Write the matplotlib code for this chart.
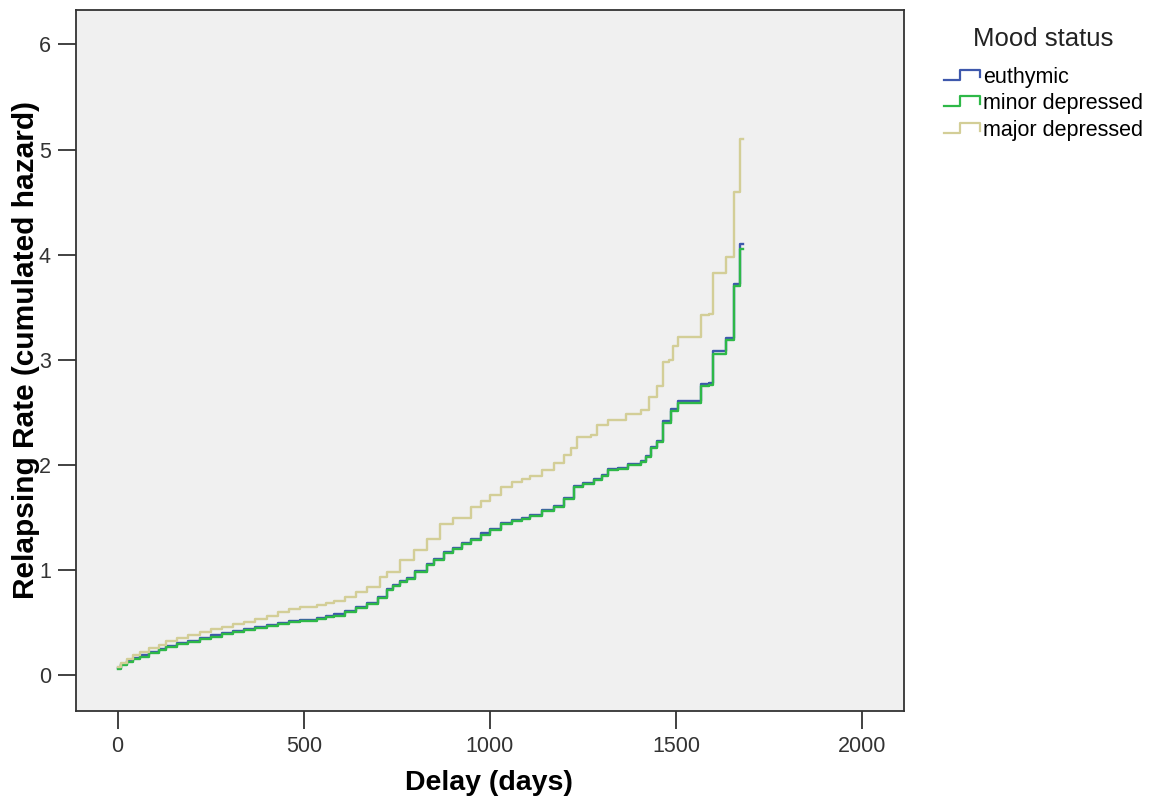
import numpy as np
import matplotlib.pyplot as plt
from matplotlib.lines import Line2D
from matplotlib.legend_handler import HandlerBase

plt.rcParams["font.family"] = ["Liberation Sans", "DejaVu Sans"]

# cumulative hazard (days, value)
days_euth = [0, 10, 25, 41, 60, 85, 110, 131, 160, 190, 221, 250, 280, 310, 340, 370,
             400, 430, 460, 490, 535, 560, 580, 610, 640, 670, 700, 723, 740, 759, 777,
             800, 830, 850, 876, 900, 925, 948, 975, 1000, 1029, 1060, 1085, 1109, 1140,
             1172, 1200, 1226, 1250, 1280, 1300, 1316, 1345, 1370, 1405, 1420, 1432, 1450,
             1464, 1486, 1504, 1567, 1589, 1598, 1634, 1656, 1672, 1680]
haz_euth = [0.07, 0.11, 0.14, 0.17, 0.19, 0.22, 0.25, 0.28, 0.31, 0.33, 0.36, 0.38, 0.40,
            0.42, 0.44, 0.46, 0.48, 0.50, 0.52, 0.53, 0.55, 0.565, 0.58, 0.61, 0.65, 0.69,
            0.75, 0.82, 0.86, 0.90, 0.93, 0.99, 1.06, 1.11, 1.17, 1.21, 1.26, 1.30, 1.35,
            1.39, 1.45, 1.48, 1.50, 1.53, 1.57, 1.61, 1.69, 1.80, 1.83, 1.87, 1.91, 1.96,
            1.97, 2.01, 2.04, 2.09, 2.17, 2.23, 2.42, 2.53, 2.61, 2.77, 2.78, 3.08, 3.21,
            3.72, 4.10, 4.10]

days_minor = [0, 10, 25, 41, 60, 85, 110, 131, 160, 190, 221, 250, 280, 310, 340, 370,
              400, 430, 460, 490, 535, 560, 580, 610, 640, 670, 700, 723, 740, 759, 777,
              800, 830, 850, 876, 900, 925, 948, 975, 1000, 1029, 1060, 1085, 1109, 1140,
              1172, 1200, 1226, 1250, 1280, 1300, 1316, 1345, 1370, 1405, 1420, 1432, 1450,
              1464, 1486, 1504, 1567, 1589, 1598, 1634, 1656, 1672, 1680]
haz_minor = [0.06, 0.10, 0.13, 0.16, 0.18, 0.21, 0.24, 0.27, 0.30, 0.32, 0.35, 0.37, 0.39,
             0.41, 0.43, 0.45, 0.47, 0.49, 0.51, 0.52, 0.54, 0.555, 0.57, 0.60, 0.64, 0.68,
             0.74, 0.81, 0.85, 0.89, 0.92, 0.98, 1.05, 1.10, 1.16, 1.20, 1.25, 1.29, 1.34,
             1.38, 1.44, 1.47, 1.49, 1.52, 1.56, 1.60, 1.68, 1.79, 1.82, 1.86, 1.90, 1.95,
             1.96, 2.00, 2.03, 2.08, 2.16, 2.22, 2.40, 2.51, 2.59, 2.75, 2.76, 3.06, 3.19,
             3.70, 4.05, 4.05]

days_major = [0, 10, 25, 41, 60, 85, 110, 131, 160, 190, 221, 250, 280, 310, 340, 370,
              400, 430, 460, 490, 535, 560, 580, 610, 640, 670, 705, 723, 759, 795, 830,
              867, 900, 948, 975, 1000, 1029, 1060, 1085, 1109, 1140, 1172, 1200, 1217,
              1235, 1271, 1289, 1316, 1365, 1405, 1428, 1450, 1464, 1482, 1491, 1504, 1567,
              1589, 1598, 1634, 1656, 1672, 1680]
haz_major = [0.08, 0.12, 0.16, 0.19, 0.22, 0.26, 0.29, 0.33, 0.36, 0.38, 0.41, 0.44, 0.46,
             0.49, 0.51, 0.54, 0.57, 0.60, 0.63, 0.65, 0.67, 0.69, 0.71, 0.75, 0.79, 0.84,
             0.94, 0.98, 1.10, 1.19, 1.30, 1.44, 1.50, 1.60, 1.66, 1.72, 1.79, 1.84, 1.87,
             1.90, 1.95, 2.02, 2.10, 2.16, 2.27, 2.29, 2.38, 2.43, 2.49, 2.52, 2.65, 2.75,
             2.98, 3.00, 3.13, 3.22, 3.43, 3.44, 3.83, 3.98, 4.60, 5.10, 5.10]

labels = ["euthymic", "minor depressed", "major depressed"]
colors = ["#3E58AC", "#2EB848", "#D3CE97"]


class StepHandler(HandlerBase):
    def create_artists(self, legend, orig_handle, xdescent, ydescent, width, height,
                       fontsize, trans):
        x0, w = -xdescent, width
        y0, h = -ydescent, height
        xs = [x0, x0 + 0.45 * w, x0 + 0.45 * w, x0 + w, x0 + w]
        ys = [y0 + 0.2 * h, y0 + 0.2 * h, y0 + 0.85 * h, y0 + 0.85 * h, y0 + 0.35 * h]
        ln = Line2D(xs, ys, color=orig_handle.get_color(), lw=1.6, transform=trans)
        return [ln]


fig = plt.figure(figsize=(11.6, 8.05), dpi=100)
ax = fig.add_axes([0.0655, 0.1165, 0.714, 0.8715])
ax.set_facecolor("#F0F0F0")

handles = []
for d, hz, c, lab in [(days_euth, haz_euth, colors[0], labels[0]),
                      (days_minor, haz_minor, colors[1], labels[1]),
                      (days_major, haz_major, colors[2], labels[2])]:
    ln, = ax.plot(d, hz, drawstyle="steps-post", color=c, lw=1.7, label=lab)
    handles.append(ln)

ax.set_xlim(-112, 2113)
ax.set_ylim(-0.34, 6.33)
ax.set_xticks([0, 500, 1000, 1500, 2000])
ax.set_yticks([0, 1, 2, 3, 4, 5, 6])
ax.tick_params(direction="out", length=13, width=1.3, colors="#333333",
               labelsize=15.5, pad=5)
for s in ax.spines.values():
    s.set_color("#333333")
    s.set_linewidth(1.3)

ax.set_xlabel("Delay (days)", fontsize=20.5, fontweight="bold")
ax.set_ylabel("Relapsing Rate (cumulated hazard)", fontsize=21.5, fontweight="bold")
ax.xaxis.set_label_coords(0.499, -0.084)
ax.yaxis.set_label_coords(-0.043, 0.515)

leg = fig.legend(handles=handles, labels=labels, title="Mood status",
                 loc="upper left", bbox_to_anchor=(0.797, 0.99), frameon=False,
                 fontsize=15.5, title_fontsize=18.5, handlelength=1.7,
                 handletextpad=0.1, labelspacing=0.26,
                 handler_map={Line2D: StepHandler()})
leg._legend_box.align = "center"
leg._legend_box.sep = 11
leg.get_title().set_color("#222222")

fig.savefig("out.png", dpi=100)
